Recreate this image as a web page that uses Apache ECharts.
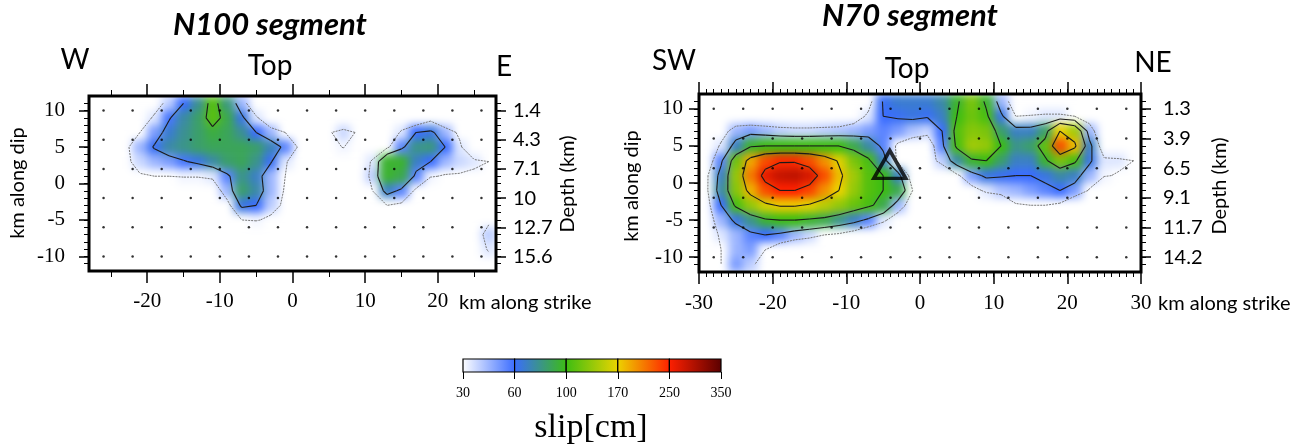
<!DOCTYPE html>
<html>
<head>
<meta charset="utf-8">
<title>slip distribution</title>
<script src="https://cdn.jsdelivr.net/npm/echarts@6/dist/echarts.min.js"></script>
<style>
  html, body { margin: 0; padding: 0; background: #fff; }
  #wrap { position: relative; width: 1314px; height: 444px; }
  #heat, #chart { position: absolute; left: 0; top: 0; width: 1314px; height: 444px; }
  /* soften the 2 km cells and keep them inside the two frames */
  #heat {
    filter: blur(4px);
    clip-path: path('M89 96 H496 V271 H89 Z M699 94 H1141 V272 H699 Z');
  }
</style>
</head>
<body>
<div id="wrap">
  <div id="heat"></div>
  <div id="chart"></div>
</div>
<script>
// colour bar: slip stops (cm) and their colours
const slipStops = [30, 60, 100, 170, 250, 350];
const slipColors = ['#ffffff', '#3a6cff', '#3cbd12', '#ecd400', '#ff2000', '#5a0000'];
// contour levels (cm), the first one is drawn grey and dashed
const contourLevels = [30, 60, 100, 170, 250];

// subfault centres (the black dots)
const n100DotStrike = [-26, -22, -18, -14, -10, -6, -2, 2, 6, 10, 14, 18, 22, 26];
const n70DotStrike = [-28, -24, -20, -16, -12, -8, -4, 0, 4, 8, 12, 16, 20, 24, 28];
const dotDip = [10, 6, 2, -2, -6, -10];

// depth labels (km), one per dot row
const n100Depth = ['1.4', '4.3', '7.1', '10', '12.7', '15.6'];
const n70Depth = ['1.3', '3.9', '6.5', '9.1', '11.7', '14.2'];

// tick labels
const n100StrikeTicks = [-20, -10, 0, 10, 20];
const n100StrikeMinor = [-25, -15, -5, 5, 15, 25];
const n70StrikeTicks = [-30, -20, -10, 0, 10, 20, 30];
const dipTicks = [10, 5, 0, -5, -10];

// 2 km cells
const n100CellStrike = [-27, -25, -23, -21, -19, -17, -15, -13, -11, -9, -7, -5, -3, -1,
  1, 3, 5, 7, 9, 11, 13, 15, 17, 19, 21, 23, 25, 27];
const n70CellStrike = [-29, -27, -25, -23, -21, -19, -17, -15, -13, -11, -9, -7, -5, -3, -1,
  1, 3, 5, 7, 9, 11, 13, 15, 17, 19, 21, 23, 25, 27, 29];
const cellDip = [11, 9, 7, 5, 3, 1, -1, -3, -5, -7, -9, -11];

// slip (cm), one row per cellDip
const n100Slip = [
  [0,0,0,0,15,40,60,78,110,82,45,0,0,0,0,0,0,0,0,0,0,0,0,0,0,0,0,0],
  [0,0,0,10,35,58,75,85,112,90,65,35,0,0,0,0,0,0,0,0,0,0,0,20,0,0,0,0],
  [0,0,10,30,50,68,78,85,92,88,78,60,45,30,0,0,28,38,28,0,0,35,60,65,45,25,0,0],
  [0,0,25,45,62,75,80,85,88,88,88,85,72,55,25,0,15,32,0,0,25,55,80,82,60,35,0,0],
  [0,0,25,38,45,50,58,65,75,85,88,80,62,35,0,0,0,0,0,35,95,95,70,60,45,38,35,30],
  [0,0,20,28,30,30,32,32,35,55,80,70,45,30,0,0,0,0,0,40,95,90,55,32,28,28,25,15],
  [0,0,0,0,0,0,0,0,10,45,85,75,45,28,0,0,0,0,0,30,70,55,25,0,0,0,0,0],
  [0,0,0,0,0,0,0,0,0,20,65,60,40,25,0,0,0,0,0,0,30,25,0,0,0,0,0,0],
  [0,0,0,0,0,0,0,0,0,0,30,32,25,0,0,0,0,0,0,0,0,0,0,0,0,0,0,25],
  [0,0,0,0,0,0,0,0,0,0,0,0,0,0,0,0,0,0,0,0,0,0,0,0,0,0,15,40],
  [0,0,0,0,0,0,0,0,0,0,0,0,0,0,0,0,0,0,0,0,0,0,0,0,0,0,0,35],
  [0,0,0,0,0,0,0,0,0,0,0,0,0,0,0,0,0,0,0,0,0,0,0,0,0,0,0,10]
];
const n70Slip = [
  [0,0,0,0,0,0,0,0,0,0,0,20,62,68,68,68,75,95,125,95,45,15,0,0,0,0,0,0,0,0],
  [0,0,0,0,0,0,0,0,0,0,15,35,60,62,65,62,70,100,120,105,65,30,32,35,35,30,15,0,0,0],
  [0,15,45,50,45,40,38,38,40,42,45,50,55,50,42,38,60,110,130,125,85,70,70,85,170,140,45,0,0,0],
  [0,35,70,95,100,100,100,100,100,100,90,75,55,25,15,10,55,105,140,135,100,80,85,115,230,180,70,10,0,0],
  [10,55,120,190,230,245,245,230,200,165,125,105,70,25,0,15,40,75,95,100,85,70,70,95,125,105,65,35,35,30],
  [25,70,135,210,265,285,290,275,230,180,140,110,100,70,15,0,0,25,50,65,62,60,60,65,75,70,45,32,28,15],
  [25,75,130,185,230,250,250,235,200,170,135,110,100,90,30,0,0,0,20,35,42,45,50,55,60,50,28,0,0,0],
  [20,60,105,135,160,175,175,165,150,135,118,105,90,45,15,0,0,0,0,0,0,28,30,30,25,0,0,0,0,0],
  [15,45,65,80,95,100,100,95,90,80,70,55,35,15,0,0,0,0,0,0,0,0,0,0,0,0,0,0,0,0],
  [10,35,45,55,60,55,45,38,30,25,15,0,0,0,0,0,0,0,0,0,0,0,0,0,0,0,0,0,0,0],
  [0,30,45,50,30,10,0,0,0,0,0,0,0,0,0,0,0,0,0,0,0,0,0,0,0,0,0,0,0,0],
  [0,30,50,40,5,0,0,0,0,0,0,0,0,0,0,0,0,0,0,0,0,0,0,0,0,0,0,0,0,15]
];

// open triangle on the N70 plane (strike km, dip km)
const n70Triangle = [[-4.1, 2.5]];

const serif = 'Liberation Serif';
const sans = 'Lato';

const grids = [
  { left: 89, top: 96, width: 407, height: 175 },
  { left: 699, top: 94, width: 442, height: 178 }
];

// the colour bar is evenly spaced per interval, so map slip to an index 0..5
function slipLevel(v) {
  if (v <= slipStops[0]) return 0;
  for (let i = 1; i < slipStops.length; i++) {
    if (v <= slipStops[i]) {
      return i - 1 + (v - slipStops[i - 1]) / (slipStops[i] - slipStops[i - 1]);
    }
  }
  return slipStops.length - 1;
}

function cells(strike, rows) {
  const out = [];
  rows.forEach((row, j) => {
    row.forEach((v, i) => out.push([strike[i], cellDip[j], v, slipLevel(v)]));
  });
  return out;
}

// marching squares over the cell centres -> [x1, y1, x2, y2, levelIndex]
function contours(strike, rows) {
  const segs = [];
  contourLevels.forEach((L, li) => {
    for (let j = 0; j < cellDip.length - 1; j++) {
      for (let i = 0; i < strike.length - 1; i++) {
        const c = [rows[j][i], rows[j][i + 1], rows[j + 1][i + 1], rows[j + 1][i]];
        const p = [[strike[i], cellDip[j]], [strike[i + 1], cellDip[j]],
          [strike[i + 1], cellDip[j + 1]], [strike[i], cellDip[j + 1]]];
        const up = c.map(v => v >= L);
        const pts = [];
        for (let e = 0; e < 4; e++) {
          const k = (e + 1) % 4;
          if (up[e] !== up[k]) {
            const t = (L - c[e]) / (c[k] - c[e]);
            pts[e] = [p[e][0] + t * (p[k][0] - p[e][0]), p[e][1] + t * (p[k][1] - p[e][1])];
          }
        }
        const found = [0, 1, 2, 3].filter(e => pts[e]);
        if (found.length === 2) {
          segs.push([...pts[found[0]], ...pts[found[1]], li]);
        } else if (found.length === 4) {
          const centre = (c[0] + c[1] + c[2] + c[3]) / 4 >= L;
          for (let k = 0; k < 4; k++) {
            if (up[k] !== centre) segs.push([...pts[(k + 3) % 4], ...pts[k], li]);
          }
        }
      }
    }
  });
  return segs;
}

function dots(strike) {
  const out = [];
  dotDip.forEach(d => strike.forEach(s => out.push([s, d])));
  return out;
}

function every(from, to) {
  const out = [];
  for (let v = from; v <= to; v++) out.push(v);
  return out;
}

function renderCell(params, api) {
  const p = api.coord([api.value(0) - 1, api.value(1) + 1]);
  const s = api.size([2, 2]);
  return {
    type: 'rect',
    shape: { x: p[0], y: p[1], width: s[0] + 0.6, height: s[1] + 0.6 },
    style: { fill: api.visual('color') }
  };
}

function renderContour(params, api) {
  const a = api.coord([api.value(0), api.value(1)]);
  const b = api.coord([api.value(2), api.value(3)]);
  const outer = api.value(4) === 0;
  return {
    type: 'line',
    shape: { x1: a[0], y1: a[1], x2: b[0], y2: b[1] },
    style: {
      stroke: outer ? '#777' : '#1a1a1a',
      lineWidth: outer ? 1 : 1.1,
      lineDash: outer ? [2, 1] : null
    }
  };
}

function renderBar(params, api) {
  const i = params.dataIndex;
  const a = api.coord([api.value(0), 1]);
  const b = api.coord([api.value(1), 0]);
  return {
    type: 'rect',
    shape: { x: a[0], y: a[1], width: b[0] - a[0], height: b[1] - a[1] },
    style: {
      fill: new echarts.graphic.LinearGradient(0, 0, 1, 0, [
        { offset: 0, color: slipColors[i] },
        { offset: 1, color: slipColors[i + 1] }
      ]),
      stroke: '#000',
      lineWidth: 1.2
    }
  };
}

function tickAxis(gridIndex, position, min, max, ticks, tickLen, label, width) {
  return {
    type: 'value', gridIndex, position, min, max,
    axisLine: { show: false, onZero: false },
    splitLine: { show: false },
    axisTick: { show: true, customValues: ticks, length: tickLen, lineStyle: { color: '#000', width: width || 1 } },
    axisLabel: label ? Object.assign({ show: true, color: '#000' }, label) : { show: false }
  };
}

function text(x, y, str, font, size, extra) {
  return Object.assign({
    type: 'text', x, y, z: 100,
    style: {
      text: str, fill: '#000', fontFamily: font, fontSize: size,
      align: 'center', verticalAlign: 'middle'
    }
  }, extra || {});
}

function titleText(x, y, str) {
  return {
    type: 'text', x, y, z: 100,
    style: {
      text: str, fill: '#000', fontFamily: sans, fontSize: 31,
      fontWeight: 'bold', fontStyle: 'italic', align: 'center', verticalAlign: 'middle'
    }
  };
}

function leftText(x, y, str) {
  return {
    type: 'text', x, y, z: 100,
    style: { text: str, fill: '#000', fontFamily: sans, fontSize: 20, align: 'left', verticalAlign: 'middle' }
  };
}

// heat layer: only the slip cells
const heat = echarts.init(document.getElementById('heat'));
heat.setOption({
  animation: false,
  grid: grids.map(g => Object.assign({ containLabel: false, outerBoundsMode: 'none' }, g)),
  xAxis: [
    { type: 'value', gridIndex: 0, min: -28, max: 28, show: false },
    { type: 'value', gridIndex: 1, min: -30, max: 30, show: false }
  ],
  yAxis: [
    { type: 'value', gridIndex: 0, min: -12, max: 12, show: false },
    { type: 'value', gridIndex: 1, min: -12, max: 12, show: false }
  ],
  visualMap: {
    type: 'continuous',
    show: false,
    dimension: 3,
    min: 0,
    max: slipStops.length - 1,
    inRange: { color: slipColors }
  },
  series: [
    {
      type: 'custom', name: 'N100 slip', xAxisIndex: 0, yAxisIndex: 0,
      dimensions: ['strike', 'dip', 'slip', 'level'],
      encode: { x: 0, y: 1 },
      renderItem: renderCell,
      data: cells(n100CellStrike, n100Slip)
    },
    {
      type: 'custom', name: 'N70 slip', xAxisIndex: 1, yAxisIndex: 1,
      dimensions: ['strike', 'dip', 'slip', 'level'],
      encode: { x: 0, y: 1 },
      renderItem: renderCell,
      data: cells(n70CellStrike, n70Slip)
    }
  ]
});

// top layer: frames, ticks, contours, dots, triangle, colour bar and texts
const chart = echarts.init(document.getElementById('chart'));
chart.setOption({
  animation: false,
  backgroundColor: 'transparent',
  grid: grids.map(g => Object.assign({
    containLabel: false, outerBoundsMode: 'none', show: true, z: 10,
    backgroundColor: 'transparent', borderColor: '#000', borderWidth: 3
  }, g)).concat([
    { left: 463, top: 359, width: 258, height: 13, containLabel: false, outerBoundsMode: 'none' }
  ]),
  xAxis: [
    tickAxis(0, 'bottom', -28, 28, n100StrikeTicks, 12,
      { customValues: n100StrikeTicks, fontFamily: serif, fontSize: 21, margin: 20 }, 1.5),
    tickAxis(0, 'bottom', -28, 28, n100StrikeMinor, 6, null),
    tickAxis(0, 'top', -28, 28, n100StrikeTicks, 12, null, 1.5),
    tickAxis(0, 'top', -28, 28, n100StrikeMinor, 6, null),

    tickAxis(1, 'bottom', -30, 30, n70StrikeTicks, 12,
      { customValues: n70StrikeTicks, fontFamily: serif, fontSize: 21, margin: 21 }, 1.5),
    tickAxis(1, 'bottom', -30, 30, every(-29, 29), 5, null),
    tickAxis(1, 'top', -30, 30, n70StrikeTicks, 12, null, 1.5),
    tickAxis(1, 'top', -30, 30, every(-29, 29), 5, null),

    tickAxis(2, 'bottom', 0, 5, [0, 1, 2, 3, 4, 5], 7,
      { customValues: [0, 1, 2, 3, 4, 5], fontFamily: serif, fontSize: 14, margin: 14,
        formatter: v => String(slipStops[v]) })
  ],
  yAxis: [
    tickAxis(0, 'left', -12, 12, dipTicks, 10,
      { customValues: dipTicks, fontFamily: serif, fontSize: 21, margin: 24 }, 1.5),
    tickAxis(0, 'left', -12, 12, every(-11, 11), 5, null),
    tickAxis(0, 'right', -12, 12, dotDip, 10,
      { customValues: dotDip, fontFamily: sans, fontSize: 20, margin: 17,
        formatter: v => n100Depth[dotDip.indexOf(v)] }, 1.5),
    tickAxis(0, 'right', -12, 12, every(-11, 11), 5, null),

    tickAxis(1, 'left', -12, 12, dipTicks, 10,
      { customValues: dipTicks, fontFamily: serif, fontSize: 21, margin: 16 }, 1.5),
    tickAxis(1, 'left', -12, 12, every(-11, 11), 5, null),
    tickAxis(1, 'right', -12, 12, dotDip, 10,
      { customValues: dotDip, fontFamily: sans, fontSize: 20, margin: 22,
        formatter: v => n70Depth[dotDip.indexOf(v)] }, 1.5),
    tickAxis(1, 'right', -12, 12, every(-11, 11), 5, null),

    { type: 'value', gridIndex: 2, min: 0, max: 1, show: false }
  ],
  series: [
    {
      type: 'custom', name: 'N100 contours', xAxisIndex: 0, yAxisIndex: 0,
      encode: { x: [0, 2], y: [1, 3] }, silent: true,
      renderItem: renderContour,
      data: contours(n100CellStrike, n100Slip)
    },
    {
      type: 'custom', name: 'N70 contours', xAxisIndex: 4, yAxisIndex: 4,
      encode: { x: [0, 2], y: [1, 3] }, silent: true,
      renderItem: renderContour,
      data: contours(n70CellStrike, n70Slip)
    },
    {
      type: 'scatter', name: 'N100 subfaults', xAxisIndex: 0, yAxisIndex: 0,
      symbolSize: 2.5, itemStyle: { color: '#000' }, silent: true,
      data: dots(n100DotStrike)
    },
    {
      type: 'scatter', name: 'N70 subfaults', xAxisIndex: 4, yAxisIndex: 4,
      symbolSize: 2.5, itemStyle: { color: '#000' }, silent: true,
      data: dots(n70DotStrike)
    },
    {
      type: 'scatter', name: 'triangle', xAxisIndex: 4, yAxisIndex: 4,
      symbol: 'triangle', symbolSize: [32, 28], z: 5,
      itemStyle: { color: 'rgba(0,0,0,0)', borderColor: '#000', borderWidth: 3.5 },
      data: n70Triangle
    },
    {
      type: 'custom', name: 'colour bar', xAxisIndex: 8, yAxisIndex: 8,
      renderItem: renderBar,
      data: slipStops.slice(1).map((_, i) => [i, i + 1])
    }
  ],
  graphic: [
    titleText(270, 25, 'N100 segment'),
    titleText(910, 16, 'N70 segment'),
    text(75, 60, 'W', sans, 28),
    text(270, 66, 'Top', sans, 28),
    text(504, 67, 'E', sans, 28),
    text(674, 61, 'SW', sans, 28),
    text(907, 69, 'Top', sans, 28),
    text(1153, 63, 'NE', sans, 28),
    text(18, 183, 'km along dip', sans, 20, { rotation: Math.PI / 2 }),
    text(568, 184, 'Depth (km)', sans, 20, { rotation: Math.PI / 2 }),
    text(632, 186, 'km along dip', sans, 20, { rotation: Math.PI / 2 }),
    text(1220, 186, 'Depth (km)', sans, 20, { rotation: Math.PI / 2 }),
    leftText(459, 303, 'km along strike'),
    leftText(1158, 304, 'km along strike'),
    text(591, 428, 'slip[cm]', serif, 34)
  ]
});
</script>
</body>
</html>
